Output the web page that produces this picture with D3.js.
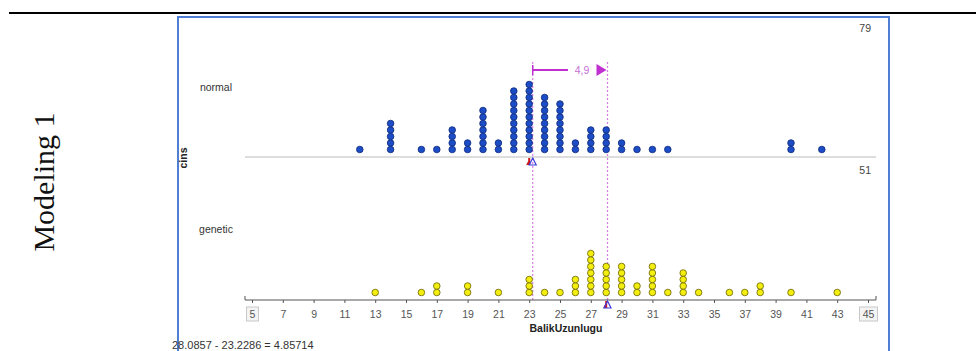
<!DOCTYPE html>
<html>
<head>
<meta charset="utf-8">
<script src="https://cdn.jsdelivr.net/npm/d3@7/dist/d3.min.js"></script>
<style>
  html, body { margin: 0; padding: 0; background: #fff; }
  svg { display: block; }
</style>
</head>
<body>
<svg id="chart" width="976" height="351"></svg>
<script>
// Fish length (BalikUzunlugu) dot plot, split by cins
const tickValues = [5, 7, 9, 11, 13, 15, 17, 19, 21, 23, 25, 27, 29, 31, 33, 35, 37, 39, 41, 43, 45];
const groups = ["normal", "genetic"];

const normalValues = [12, 14, 16, 17, 18, 19, 20, 21, 22, 23, 24, 25, 26, 27, 28, 29, 30, 31, 32, 40, 42];
const normalCounts = [1, 5, 1, 1, 4, 2, 7, 2, 10, 11, 9, 8, 2, 4, 4, 2, 1, 1, 1, 2, 1];

const geneticValues = [13, 16, 17, 19, 21, 23, 24, 25, 26, 27, 28, 29, 30, 31, 32, 33, 34, 36, 37, 38, 40, 43];
const geneticCounts = [1, 1, 2, 2, 1, 3, 1, 1, 3, 7, 5, 5, 2, 5, 1, 4, 1, 1, 1, 2, 1, 1];

const normalMean = 23.228571;
const geneticMean = 28.085714;

const svg = d3.select("#chart");

// page rule and side caption
svg.append("line").attr("x1", 9).attr("x2", 976).attr("y1", 13).attr("y2", 13)
  .attr("stroke", "#000").attr("stroke-width", 2.2);
svg.append("text")
  .attr("transform", "translate(54,182) rotate(-90)")
  .attr("text-anchor", "middle")
  .attr("font-family", "Liberation Serif, Times New Roman, serif")
  .attr("font-size", 30).attr("fill", "#111")
  .text("Modeling 1");

// graph frame
svg.append("path").attr("d", "M178,360 L178,17 L889,17 L889,360")
  .attr("fill", "none").attr("stroke", "#4f7fd4").attr("stroke-width", 2);

const x = d3.scaleLinear().domain([5, 45]).range([252, 868]);
const sans = "Liberation Sans, Arial, sans-serif";
const fmt6 = d3.format(".6");

// panel rows: baseline y for each group
const rows = [
  { name: "normal", values: normalValues, counts: normalCounts, mean: normalMean,
    base: 157, label: 87, fill: "#1c4cc6", stroke: "#0e2a7a", total: "79", totalY: 28 },
  { name: "genetic", values: geneticValues, counts: geneticCounts, mean: geneticMean,
    base: 300, label: 229, fill: "#f2ee10", stroke: "#6b6200", total: "51", totalY: 170 }
];

const dotStep = 6.5, dotR = 3.3;

function median(values, counts) {
  const all = [];
  values.forEach((v, i) => { for (let k = 0; k < counts[i]; k++) all.push(v); });
  return d3.median(all);
}

// dashed mean lines across both panels
[normalMean, geneticMean].forEach(m => {
  svg.append("line")
    .attr("x1", x(m)).attr("x2", x(m)).attr("y1", 62).attr("y2", 300)
    .attr("stroke", "#d77be6").attr("stroke-width", 1.2).attr("stroke-dasharray", "2,2");
});

rows.forEach((row, ri) => {
  const g = svg.append("g");
  g.append("text").attr("x", 216).attr("y", row.label + 4).attr("text-anchor", "middle")
    .attr("font-family", sans).attr("font-size", 10.5).attr("fill", "#333").text(row.name);
  g.append("text").attr("x", 871).attr("y", row.totalY + 4).attr("text-anchor", "end")
    .attr("font-family", sans).attr("font-size", 10.5).attr("fill", "#444").text(row.total);

  if (ri === 0) {
    g.append("line").attr("x1", 245).attr("x2", 876).attr("y1", row.base).attr("y2", row.base)
      .attr("stroke", "#bbb").attr("stroke-width", 1.2);
  }

  // stacked dots
  const dots = [];
  row.values.forEach((v, i) => {
    for (let k = 0; k < row.counts[i]; k++) dots.push({ v, k });
  });
  g.selectAll("circle").data(dots).enter().append("circle")
    .attr("cx", d => x(d.v))
    .attr("cy", d => row.base - 7.5 - d.k * dotStep)
    .attr("r", dotR)
    .attr("fill", row.fill).attr("stroke", row.stroke).attr("stroke-width", 0.8);

  // median (red) and mean (blue open triangle) markers below the baseline
  const yb = row.base + 1;
  const med = median(row.values, row.counts);
  const mx = x(med);
  g.append("path").attr("d", `M${mx - 1},${yb} L${mx + 1},${yb} L${mx + 1},${yb + 7} L${mx - 3},${yb + 7} L${mx - 1},${yb + 3} Z`)
    .attr("fill", "#d01818");
  const ax = x(row.mean);
  g.append("path").attr("d", `M${ax},${yb} L${ax + 3.5},${yb + 7} L${ax - 3.5},${yb + 7} Z`)
    .attr("fill", "none").attr("stroke", "#3a3ae0").attr("stroke-width", 1.2);
});

// horizontal axis
const axisG = svg.append("g").attr("transform", "translate(0,300)");
axisG.call(d3.axisBottom(x).tickValues(tickValues).tickSize(3).tickSizeOuter(0).tickPadding(8));
axisG.select(".domain").remove();
axisG.append("line").attr("x1", 245).attr("x2", 876).attr("y1", 0).attr("y2", 0)
  .attr("stroke", "#555").attr("stroke-width", 1.2);
axisG.append("line").attr("x1", 245).attr("x2", 245).attr("y1", 0).attr("y2", -4).attr("stroke", "#555");
axisG.append("line").attr("x1", 876).attr("x2", 876).attr("y1", 0).attr("y2", -4).attr("stroke", "#555");
axisG.selectAll(".tick line").attr("stroke", "#555");
axisG.selectAll(".tick text").attr("font-family", sans).attr("font-size", 10.5).attr("fill", "#555");
// boxed end values
axisG.selectAll(".tick").filter(d => d === 5 || d === 45)
  .insert("rect", "text")
  .attr("x", d => d === 5 ? -6 : -9).attr("y", 7).attr("width", d => d === 5 ? 12 : 18).attr("height", 14)
  .attr("fill", "#f4f4f4").attr("stroke", "#c8c8c8");

svg.append("text").attr("x", 566).attr("y", 332).attr("text-anchor", "middle")
  .attr("font-family", sans).attr("font-size", 10.5).attr("font-weight", "bold").attr("fill", "#222")
  .text("BalikUzunlugu");

svg.append("text")
  .attr("transform", "translate(187,158) rotate(-90)")
  .attr("text-anchor", "middle")
  .attr("font-family", sans).attr("font-size", 10.5).attr("font-weight", "bold").attr("fill", "#222")
  .text("cins");

// difference between means
const diff = geneticMean - normalMean;
svg.append("text").attr("x", 172).attr("y", 349)
  .attr("font-family", sans).attr("font-size", 11).attr("fill", "#333")
  .text(`${fmt6(geneticMean)} - ${fmt6(normalMean)} = ${fmt6(diff)}`);

const ay = 70;
const x0 = x(normalMean), x1 = x(geneticMean);
svg.append("line").attr("x1", x0).attr("x2", 568).attr("y1", ay).attr("y2", ay)
  .attr("stroke", "#c02fd0").attr("stroke-width", 2);
svg.append("line").attr("x1", x0).attr("x2", x0).attr("y1", ay - 5).attr("y2", ay + 5)
  .attr("stroke", "#c02fd0").attr("stroke-width", 1.5);
svg.append("text").attr("x", 582).attr("y", ay + 4).attr("text-anchor", "middle")
  .attr("font-family", sans).attr("font-size", 10.5).attr("fill", "#c86fd8")
  .text(d3.format(".1f")(diff).replace(".", ","));
svg.append("path").attr("d", `M${x1 - 11},${ay - 6} L${x1 - 1},${ay} L${x1 - 11},${ay + 6} Z`)
  .attr("fill", "#c02fd0");
</script>
</body>
</html>
